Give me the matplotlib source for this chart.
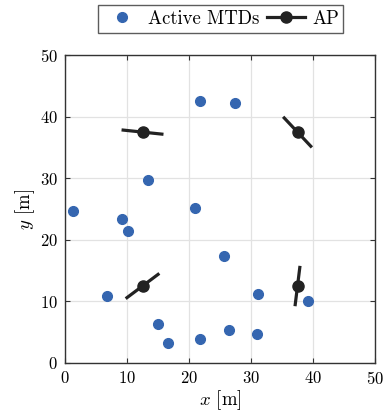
import numpy as np
import matplotlib
matplotlib.use("Agg")
import matplotlib.pyplot as plt
from matplotlib.lines import Line2D

plt.rcParams['font.family'] = 'serif'
plt.rcParams['font.serif'] = ['cmr10', 'DejaVu Serif']
plt.rcParams['mathtext.fontset'] = 'cm'
plt.rcParams['axes.formatter.use_mathtext'] = True

# Active MTD positions
mtd_x = [1.3, 9.2, 10.2, 13.4, 21.0, 21.8, 27.4, 25.6, 6.8, 31.1, 39.2, 15.0, 16.6, 21.8, 26.5, 31.0]
mtd_y = [24.7, 23.4, 21.4, 29.7, 25.2, 42.5, 42.2, 17.4, 10.9, 11.2, 10.1, 6.3, 3.2, 3.9, 5.4, 4.7]

# AP positions and orientations (degrees), half-length of orientation bar
ap_x = [12.5, 37.5, 12.5, 37.5]
ap_y = [37.5, 37.5, 12.5, 12.5]
ap_angle = [-6, -47, 37, 83]
ap_half = [3.4, 3.4, 3.4, 3.3]

fig = plt.figure(figsize=(3.87, 4.18), dpi=100)
ax = fig.add_axes([0.168, 0.1316, 0.801, 0.7365])

blue = '#3566b0'
dark = '#222222'

ax.plot(mtd_x, mtd_y, 'o', color=blue, markersize=7, linestyle='none', zorder=3)

for x, y, a, h in zip(ap_x, ap_y, ap_angle, ap_half):
    t = np.deg2rad(a)
    dx, dy = h*np.cos(t), h*np.sin(t)
    ax.plot([x-dx, x+dx], [y-dy, y+dy], '-', color=dark, lw=2.3, zorder=4, solid_capstyle='butt')
    ax.plot(x, y, 'o', color=dark, markersize=8, zorder=5)

ax.set_xlim(0, 50)
ax.set_ylim(0, 50)
ax.set_xticks([0, 10, 20, 30, 40, 50])
ax.set_yticks([0, 10, 20, 30, 40, 50])
ax.grid(True, color='#e2e2e2', lw=0.9)
ax.set_axisbelow(True)
ax.tick_params(direction='in', top=True, right=True, labelsize=12, length=3.5, color='#333333', pad=5)
for s in ax.spines.values():
    s.set_color('#333333')
    s.set_linewidth(1.0)
ax.set_xlabel('$x$ [m]', fontsize=13.5, labelpad=1)
ax.set_ylabel('$y$ [m]', fontsize=13.5, labelpad=2)

handles = [Line2D([], [], marker='o', color=blue, linestyle='none', markersize=7),
           Line2D([], [], marker='o', color=dark, lw=2.3, markersize=8)]
leg = fig.legend(handles, ['Active MTDs', 'AP'], ncol=2, loc='center',
                 bbox_to_anchor=(0.571, 0.9545), fontsize=13.5, frameon=True,
                 fancybox=False, edgecolor='#333333', handlelength=2.0,
                 columnspacing=0.4, handletextpad=0.4, borderpad=0.25)
leg.get_frame().set_linewidth(1.0)

fig.savefig('out.png', dpi=100)
